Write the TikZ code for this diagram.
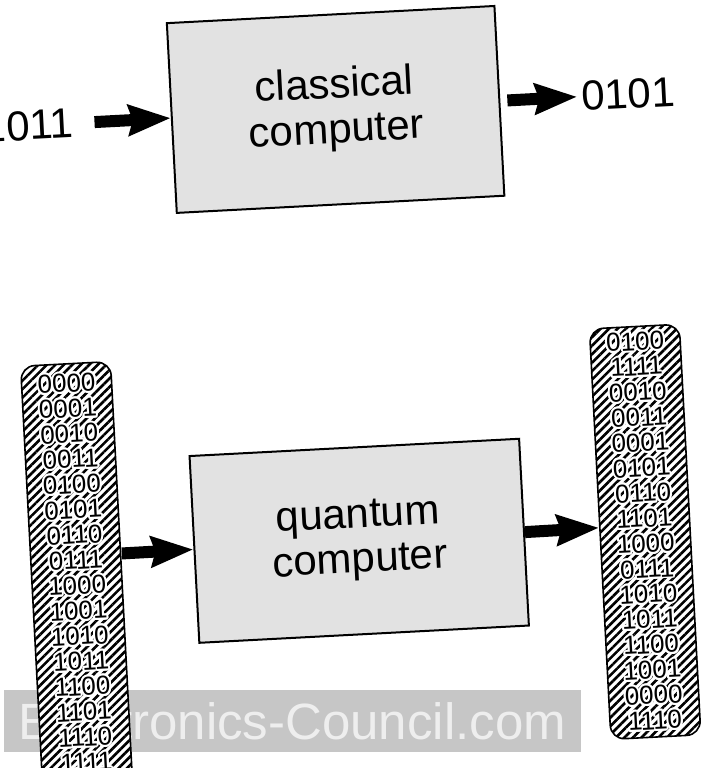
\documentclass[tikz,border=0pt]{standalone}
\usepackage{fontspec}
\setmainfont{Liberation Sans}
\usepackage{contour}
\contourlength{1pt}
\usetikzlibrary{arrows.meta,patterns.meta}
\definecolor{boxgray}{HTML}{E2E2E2}
\definecolor{wmgray}{HTML}{C6C6C6}
\definecolor{wmtext}{HTML}{EEEEEE}
\newcommand{\halo}[1]{\contour{white}{#1}}

\begin{document}
\begin{tikzpicture}[x=0.5pt,y=-0.5pt,
  blk/.style={draw,line width=1pt,fill=boxgray,minimum width=164pt,minimum height=95pt,
    align=center,font=\fontsize{21}{22.5}\selectfont},
  col/.style={draw,line width=0.8pt,rounded corners=7pt,preaction={fill=white},
    pattern={Lines[angle=45,distance=3pt,line width=1.3pt]},minimum width=45pt,
    align=center,inner sep=0pt,font=\fontsize{13}{12.65}\selectfont},
  lbl/.style={inner sep=0pt,font=\fontsize{21}{22.5}\selectfont},
  arr/.style={-{Stealth[length=21pt,width=15pt,inset=2pt]},line width=6pt},
  band/.style={fill=wmgray,text=wmtext,minimum width=288.5pt,minimum height=31pt,
    inner sep=0pt,font=\fontsize{25.5}{25.5}\selectfont}]
  \useasboundingbox (0,0) rectangle (703,768);
  % watermark band stays level
  \node[band] (wm) at (292.5,721) {Electronics-Council.com};
  \begin{scope}[rotate around={3:(351,384)},transform shape]
    % classical computer
    \node[blk] (cc) at (350,109) {classical\\computer};
    \node[lbl] (cin) at (42,109) {1011};
    \node[lbl] (cout) at (643,109) {0101};
    \draw[arr,shorten <=10.5pt] (cin) -- (cc);
    \draw[arr,shorten <=3.5pt,shorten >=2pt] (cc) -- (cout);
    % quantum computer
    \node[blk,minimum width=165pt,minimum height=93.5pt] (qc) at (351,541)
      {quantum\\computer};
    \node[col,minimum height=210pt] (qin) at (67,559)
      {\halo{0000}\\\halo{0001}\\\halo{0010}\\\halo{0011}\\\halo{0100}\\\halo{0101}\\
       \halo{0110}\\\halo{0111}\\\halo{1000}\\\halo{1001}\\\halo{1010}\\\halo{1011}\\
       \halo{1100}\\\halo{1101}\\\halo{1110}\\\halo{1111}};
    \node[col,minimum height=205.5pt] (qout) at (637,547)
      {\halo{0100}\\\halo{1111}\\\halo{0010}\\\halo{0011}\\\halo{0001}\\\halo{0101}\\
       \halo{0110}\\\halo{1101}\\\halo{1000}\\\halo{0111}\\\halo{1010}\\\halo{1011}\\
       \halo{1100}\\\halo{1001}\\\halo{0000}\\\halo{1110}};
    \draw[arr] (qin.21) -- (qc.west);
    \draw[arr] (qc.east) -- (qout.172);
  \end{scope}
\end{tikzpicture}
\end{document}
